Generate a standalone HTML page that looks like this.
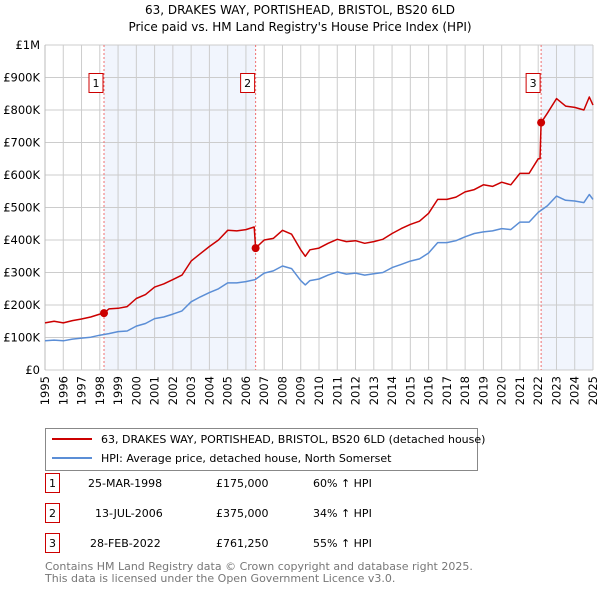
<!DOCTYPE html>
<html><head><meta charset="utf-8"><style>
body{margin:0;background:#fff;font-family:"Liberation Sans","DejaVu Sans",sans-serif;}
svg text{font-family:"DejaVu Sans","Liberation Sans",sans-serif;}
</style></head><body>
<svg id="c" width="600" height="590" viewBox="0 0 600 590" xmlns="http://www.w3.org/2000/svg">
<text x="300" y="14" text-anchor="middle" font-size="12">63, DRAKES WAY, PORTISHEAD, BRISTOL, BS20 6LD</text>
<text x="300" y="31" text-anchor="middle" font-size="12">Price paid vs. HM Land Registry's House Price Index (HPI)</text>
<g id="plot"></g>
<g>
<rect x="45.5" y="428.5" width="432" height="42" fill="#fff" stroke="#888"/>
<line x1="52" y1="439" x2="92" y2="439" stroke="#cc0000" stroke-width="2"/>
<text x="101" y="443" font-size="11">63, DRAKES WAY, PORTISHEAD, BRISTOL, BS20 6LD (detached house)</text>
<line x1="52" y1="458" x2="92" y2="458" stroke="#5b8ed6" stroke-width="2"/>
<text x="101" y="462" font-size="11">HPI: Average price, detached house, North Somerset</text>
</g>
<g font-size="11">
<rect x="45.5" y="473.5" width="14" height="19" fill="#fff" stroke="#cc0000"/><text x="52.5" y="487" text-anchor="middle">1</text>
<text x="88" y="487">25-MAR-1998</text><text x="216" y="487">£175,000</text><text x="313" y="487">60% ↑ HPI</text>
<rect x="45.5" y="503.5" width="14" height="19" fill="#fff" stroke="#cc0000"/><text x="52.5" y="517" text-anchor="middle">2</text>
<text x="95" y="517">13-JUL-2006</text><text x="216" y="517">£375,000</text><text x="313" y="517">34% ↑ HPI</text>
<rect x="45.5" y="533.5" width="14" height="19" fill="#fff" stroke="#cc0000"/><text x="52.5" y="547" text-anchor="middle">3</text>
<text x="90" y="547">28-FEB-2022</text><text x="216" y="547">£761,250</text><text x="313" y="547">55% ↑ HPI</text>
</g>
<text x="45" y="570" font-size="11" fill="#777">Contains HM Land Registry data © Crown copyright and database right 2025.</text>
<text x="45" y="582" font-size="11" fill="#777">This data is licensed under the Open Government Licence v3.0.</text>
</svg>
<script>
const hpiYears=[1995,1995.5,1996,1996.5,1997,1997.5,1998,1998.5,1999,1999.5,2000,2000.5,2001,2001.5,2002,2002.5,2003,2003.5,2004,2004.5,2005,2005.5,2006,2006.5,2007,2007.5,2008,2008.5,2009,2009.25,2009.5,2010,2010.5,2011,2011.5,2012,2012.5,2013,2013.5,2014,2014.5,2015,2015.5,2016,2016.5,2017,2017.5,2018,2018.5,2019,2019.5,2020,2020.5,2021,2021.5,2022,2022.5,2023,2023.5,2024,2024.5,2024.8,2025];
const hpiValues=[90,92,90,95,98,101,107,112,118,120,135,143,158,163,172,182,210,225,238,250,268,268,272,278,298,305,320,312,275,262,275,280,292,302,295,298,292,296,300,315,325,335,342,360,392,392,398,410,420,425,428,435,432,455,455,485,505,535,522,520,515,540,525];
const priceYears=[1995,1995.5,1996,1996.5,1997,1997.5,1998,1998.23,1998.5,1999,1999.5,2000,2000.5,2001,2001.5,2002,2002.5,2003,2003.5,2004,2004.5,2005,2005.5,2006,2006.45,2006.53,2007,2007.5,2008,2008.5,2009,2009.25,2009.5,2010,2010.5,2011,2011.5,2012,2012.5,2013,2013.5,2014,2014.5,2015,2015.5,2016,2016.5,2017,2017.5,2018,2018.5,2019,2019.5,2020,2020.5,2021,2021.5,2022,2022.1,2022.16,2022.5,2023,2023.5,2024,2024.5,2024.8,2025];
const priceValues=[145,150,145,152,157,163,172,175,188,190,195,220,232,255,265,278,292,335,358,380,400,430,428,432,440,375,400,405,430,418,370,350,370,375,390,402,395,398,390,395,402,420,435,448,458,482,525,525,532,548,555,570,565,578,570,605,605,650,650,761,790,835,812,808,800,840,815];
const saleYears=[1998.23,2006.53,2022.16];
const saleValues=[175,375,761.25];
const saleLabels=["1","2","3"];
const yTicks=[0,100,200,300,400,500,600,700,800,900,1000];
const yTickLabels=["£0","£100K","£200K","£300K","£400K","£500K","£600K","£700K","£800K","£900K","£1M"];
const xTicks=[1995,1996,1997,1998,1999,2000,2001,2002,2003,2004,2005,2006,2007,2008,2009,2010,2011,2012,2013,2014,2015,2016,2017,2018,2019,2020,2021,2022,2023,2024,2025];

const X0=45,X1=593,Y0=370,Y1=45;
const xs=y=>X0+(y-1995)/30*(X1-X0);
const ys=v=>Y0-v/1000*(Y0-Y1);
const NS="http://www.w3.org/2000/svg";
const g=document.getElementById('plot');
function mk(t,a,p){const e=document.createElementNS(NS,t);for(const k in a)e.setAttribute(k,a[k]);(p||g).appendChild(e);return e;}
mk('rect',{x:X0,y:Y1,width:X1-X0,height:Y0-Y1,fill:'#fff'});
const sh1=mk('rect',{x:xs(saleYears[0]),y:Y1,width:xs(saleYears[1])-xs(saleYears[0]),height:Y0-Y1,fill:'#f1f5fd'});


const sh2=mk('rect',{x:xs(saleYears[2]),y:Y1,width:X1-xs(saleYears[2]),height:Y0-Y1,fill:'#f1f5fd'});


yTicks.forEach((v,i)=>{
 const l=mk('line',{x1:X0,x2:X1,y1:ys(v),y2:ys(v),stroke:'#ccc','stroke-width':1});
 
 
 const t=mk('text',{x:40,y:ys(v)+4,'text-anchor':'end','font-size':11.5});
 
 
 t.textContent=yTickLabels[i];
});
xTicks.forEach(yr=>{
 const l=mk('line',{x1:xs(yr),x2:xs(yr),y1:Y1,y2:Y0,stroke:'#ccc','stroke-width':1});
 
 
 const t=mk('text',{x:0,y:0,'text-anchor':'end','font-size':11.5,transform:`translate(${xs(yr)+4},${Y0+6}) rotate(-90)`});
 
 
 t.textContent=yr;
});
mk('line',{x1:X0,x2:X0,y1:Y1,y2:Y0,stroke:'#bbb'});
saleYears.forEach((yr,i)=>{
 const l=mk('line',{x1:xs(yr),x2:xs(yr),y1:Y1,y2:Y0,stroke:'#f07070','stroke-dasharray':'2,2','stroke-width':1});
 
 
});
function path(xa,va,col,name){
 const d=xa.map((x,i)=>(i?'L':'M')+xs(x).toFixed(1)+','+ys(va[i]).toFixed(1)).join('');
 const p=mk('path',{d:d,fill:'none',stroke:col,'stroke-width':1.5,'stroke-linejoin':'round'});
 
 
}
path(hpiYears,hpiValues,'#5b8ed6','hpi-line');
path(priceYears,priceValues,'#cc0000','price-line');
saleYears.forEach((yr,i)=>{
 const c=mk('circle',{cx:xs(yr),cy:ys(saleValues[i]),r:4,fill:'#cc0000'});
 
 
 const bx=xs(yr)-8;
 const r=mk('rect',{x:bx-7,y:73.5,width:14,height:19,fill:'#fff',stroke:'#cc0000'});
 
 
 const t=mk('text',{x:bx,y:87,'text-anchor':'middle','font-size':11});
 
 
 t.textContent=saleLabels[i];
});
</script>
</body></html>
